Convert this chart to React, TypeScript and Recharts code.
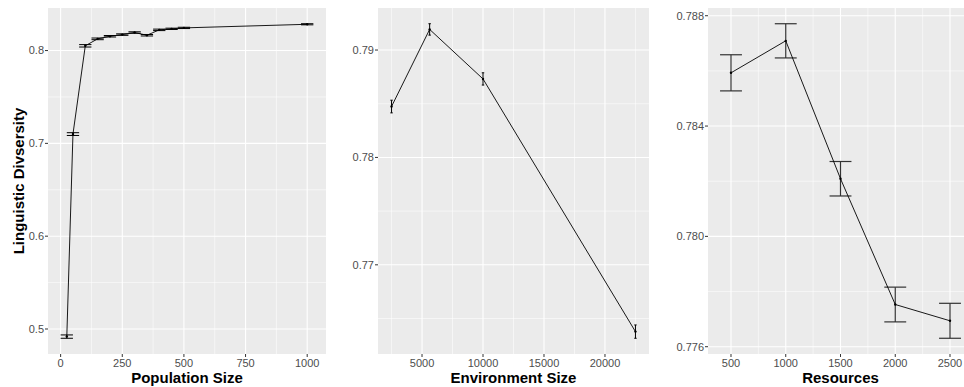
import React from 'react';
import { ComposedChart, Line, XAxis, YAxis, CartesianGrid, ErrorBar } from 'recharts';

// Population size panel
const popSize = [25, 50, 100, 150, 200, 250, 300, 350, 400, 450, 500, 1000];
const popDiversity = [0.4918, 0.71, 0.8051, 0.8126, 0.8154, 0.8172, 0.8194, 0.8165, 0.8223, 0.8234, 0.8244, 0.8283];
const popError = [0.0018, 0.0015, 0.0013, 0.0009, 0.0008, 0.0008, 0.0008, 0.0008, 0.0008, 0.0007, 0.0007, 0.0006];
const popXTicks = [0, 250, 500, 750, 1000];
const popXMinor = [125, 375, 625, 875];
const popYTicks = [0.5, 0.6, 0.7, 0.8];
const popYMinor = [0.55, 0.65, 0.75];

// Environment size panel
const envSize = [2500, 5625, 10000, 22500];
const envDiversity = [0.78474, 0.79192, 0.78731, 0.76378];
const envError = [0.00059, 0.00053, 0.00057, 0.00062];
const envXTicks = [5000, 10000, 15000, 20000];
const envXMinor = [2500, 7500, 12500, 17500, 22500];
const envYTicks = [0.77, 0.78, 0.79];
const envYMinor = [0.765, 0.775, 0.785];

// Resources panel
const resources = [500, 1000, 1500, 2000, 2500];
const resDiversity = [0.78593, 0.78709, 0.78209, 0.77753, 0.77694];
const resError = [0.000655, 0.00062, 0.000625, 0.00063, 0.000634];
const resXTicks = [500, 1000, 1500, 2000, 2500];
const resXMinor = [750, 1250, 1750, 2250];
const resYTicks = [0.776, 0.78, 0.784, 0.788];
const resYMinor = [0.778, 0.782, 0.786];

const FONT = '"Liberation Sans", Arial, sans-serif';
const HEIGHT = 387;
const MARGIN_RIGHT = 4;

// ggplot-style 5% expansion
const expand = (lo: number, hi: number): [number, number] => {
  const r = hi - lo;
  return [lo - 0.05 * r, hi + 0.05 * r];
};

interface PanelProps {
  left: number;
  width: number;
  yAxisWidth: number;
  xs: number[];
  ys: number[];
  errs: number[];
  capHalf: number;
  xTicks: number[];
  xMinor: number[];
  yTicks: number[];
  yMinor: number[];
  yDigits: number;
  xTitle: string;
  yTitle?: string;
  errColor: string;
  errStroke: number;
}

const Panel: React.FC<PanelProps> = (p) => {
  const data = p.xs.map((x, i) => ({ x, y: p.ys[i], err: p.errs[i] }));
  const xDomain = expand(Math.min(...p.xs) - p.capHalf, Math.max(...p.xs) + p.capHalf);
  const yDomain = expand(
    Math.min(...p.ys.map((v, i) => v - p.errs[i])),
    Math.max(...p.ys.map((v, i) => v + p.errs[i]))
  );
  const plotWidth = p.width - p.yAxisWidth - MARGIN_RIGHT;
  const capPx = (p.capHalf * plotWidth) / (xDomain[1] - xDomain[0]);

  return (
    <div style={{ position: 'absolute', left: p.left, top: 0 }}>
      <ComposedChart
        width={p.width}
        height={HEIGHT}
        data={data}
        margin={{ top: 8, right: MARGIN_RIGHT, bottom: 0, left: 0 }}
        style={{ fontFamily: FONT }}
      >
        <CartesianGrid
          fill="#EBEBEB"
          stroke="#FFFFFF"
          strokeWidth={0.55}
          verticalValues={p.xMinor}
          horizontalValues={p.yMinor}
        />
        <CartesianGrid
          stroke="#FFFFFF"
          strokeWidth={1.1}
          verticalValues={p.xTicks}
          horizontalValues={p.yTicks}
        />
        <XAxis
          type="number"
          dataKey="x"
          domain={xDomain}
          ticks={p.xTicks}
          allowDataOverflow
          height={33}
          axisLine={false}
          tickSize={3}
          tickMargin={2}
          tickLine={{ stroke: '#333333' }}
          tick={{ fill: '#4D4D4D', fontSize: 11 }}
          label={{
            content: (props: any) => {
              const vb = props.viewBox;
              return (
                <text
                  x={vb.x + vb.width / 2}
                  y={vb.y + 29}
                  textAnchor="middle"
                  fontSize={15}
                  fontWeight="bold"
                  fill="#000"
                >
                  {p.xTitle}
                </text>
              );
            },
          }}
        />
        <YAxis
          type="number"
          domain={yDomain}
          ticks={p.yTicks}
          allowDataOverflow
          width={p.yAxisWidth}
          axisLine={false}
          tickSize={3}
          tickMargin={1}
          tickLine={{ stroke: '#333333' }}
          tick={{ fill: '#4D4D4D', fontSize: 11 }}
          tickFormatter={(v: number) => v.toFixed(p.yDigits)}
          label={
            p.yTitle
              ? {
                  content: (props: any) => {
                    const vb = props.viewBox;
                    const cx = 24;
                    const cy = vb.y + vb.height / 2;
                    return (
                      <text
                        x={cx}
                        y={cy}
                        transform={`rotate(-90, ${cx}, ${cy})`}
                        textAnchor="middle"
                        fontSize={15}
                        fontWeight="bold"
                        fill="#000"
                      >
                        {p.yTitle}
                      </text>
                    );
                  },
                }
              : undefined
          }
        />
        <Line
          type="linear"
          dataKey="y"
          stroke="#000000"
          strokeWidth={0.9}
          dot={{ r: 1.2, fill: '#000000', stroke: 'none' }}
          activeDot={false}
          isAnimationActive={false}
        >
          <ErrorBar
            dataKey="err"
            direction="y"
            width={capPx}
            stroke={p.errColor}
            strokeWidth={p.errStroke}
            isAnimationActive={false}
          />
        </Line>
      </ComposedChart>
    </div>
  );
};

const App: React.FC = () => (
  <div
    style={{
      position: 'absolute',
      left: 0,
      top: 0,
      width: 964,
      height: HEIGHT,
      overflow: 'hidden',
      background: '#FFFFFF',
    }}
  >
    <Panel
      left={0}
      width={330}
      yAxisWidth={48}
      xs={popSize}
      ys={popDiversity}
      errs={popError}
      capHalf={25}
      xTicks={popXTicks}
      xMinor={popXMinor}
      yTicks={popYTicks}
      yMinor={popYMinor}
      yDigits={1}
      xTitle="Population Size"
      yTitle="Linguistic Divsersity"
      errColor="#000000"
      errStroke={1}
    />
    <Panel
      left={330}
      width={323}
      yAxisWidth={48}
      xs={envSize}
      ys={envDiversity}
      errs={envError}
      capHalf={100}
      xTicks={envXTicks}
      xMinor={envXMinor}
      yTicks={envYTicks}
      yMinor={envYMinor}
      yDigits={2}
      xTitle="Environment Size"
      errColor="#000000"
      errStroke={1}
    />
    <Panel
      left={653}
      width={324}
      yAxisWidth={55}
      xs={resources}
      ys={resDiversity}
      errs={resError}
      capHalf={100}
      xTicks={resXTicks}
      xMinor={resXMinor}
      yTicks={resYTicks}
      yMinor={resYMinor}
      yDigits={3}
      xTitle="Resources"
      errColor="#333333"
      errStroke={1.2}
    />
  </div>
);

export default App;
